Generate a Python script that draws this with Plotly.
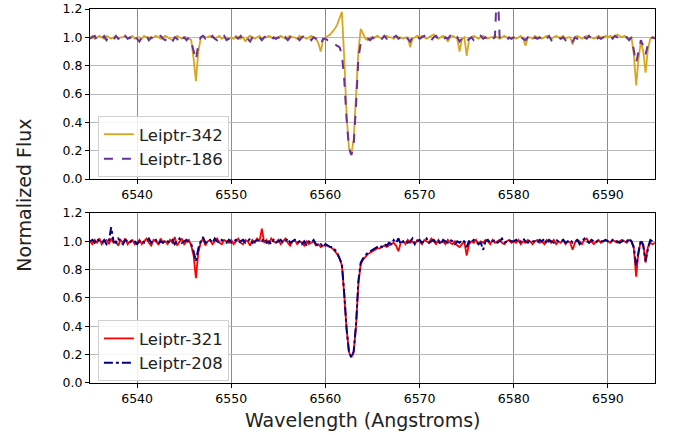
import plotly.graph_objects as go
from plotly.subplots import make_subplots

# wavelength grid (Angstroms), 0.25 A sampling from 6535 to 6595
wavelength = [6535 + 0.25 * i for i in range(241)]

leiptr_342 = [
    1.00,1.01,0.99,1.00,1.01,1.00,0.99,1.01,1.00,0.99,1.00,1.01,0.99,1.00,1.00,1.01,0.99,1.00,1.01,0.99,
    1.00,1.00,0.99,1.01,1.00,1.00,0.99,1.00,1.01,1.00,0.99,1.00,1.01,1.00,0.99,0.98,1.00,1.01,1.00,0.99,
    1.00,1.00,0.99,0.98,0.85,0.69,0.90,0.99,1.01,1.00,1.00,1.01,1.00,0.99,1.00,1.01,0.99,1.00,1.00,0.99,
    1.00,0.99,1.01,1.00,0.99,1.00,0.97,1.00,1.01,1.00,0.99,1.00,1.01,0.99,1.00,1.00,1.01,1.00,0.99,1.00,
    1.00,1.01,1.00,0.99,1.00,1.01,1.00,1.00,0.99,1.01,1.00,1.00,0.99,1.00,1.01,1.00,0.99,0.96,0.90,0.98,
    1.00,1.01,1.02,1.04,1.06,1.09,1.13,1.18,0.85,0.45,0.22,0.17,0.28,0.58,0.90,1.06,1.03,0.99,0.98,1.00,
    0.99,1.00,1.01,1.00,0.99,1.00,1.01,1.00,1.00,0.99,1.01,1.00,1.00,0.99,1.00,1.00,0.93,0.99,1.00,1.01,
    1.00,1.01,1.00,0.99,1.00,1.01,1.02,1.00,0.99,1.00,1.01,1.00,0.97,1.00,1.01,1.00,0.99,0.90,0.99,1.00,
    0.87,0.98,1.00,1.01,1.00,0.99,1.00,1.01,1.00,0.99,1.00,1.00,1.01,1.00,0.99,1.00,1.01,1.00,0.99,1.00,
    1.00,0.99,1.00,1.01,0.99,0.94,1.00,1.00,0.99,1.01,1.00,1.00,0.99,1.00,1.01,1.00,0.99,1.00,1.01,1.00,
    1.00,1.01,0.99,1.00,1.00,0.95,1.00,1.01,1.00,0.99,1.00,1.01,1.00,1.00,0.99,1.00,1.01,1.00,1.00,1.01,
    1.00,1.01,1.00,1.01,1.02,1.01,1.00,1.01,1.00,0.99,1.00,0.88,0.66,0.85,0.97,0.90,0.75,0.92,0.99,1.00,
    1.00,
]

leiptr_186 = [
    0.99,1.00,1.01,0.98,1.00,0.99,1.01,0.98,1.00,1.00,0.98,1.01,0.99,1.00,0.98,1.01,0.99,1.00,0.97,1.00,
    0.99,0.97,1.00,0.99,1.01,0.98,1.00,0.99,0.98,1.00,1.01,0.99,0.98,1.00,0.99,0.97,1.00,0.99,0.96,0.99,
    1.00,0.98,1.00,0.97,0.90,0.84,0.95,1.00,1.01,0.99,1.00,0.98,1.01,0.99,0.98,1.00,0.99,1.01,0.98,0.99,
    1.00,0.98,1.00,0.99,1.01,0.98,1.00,0.99,0.97,1.00,1.01,0.99,1.00,0.98,1.00,1.01,0.99,0.98,1.00,0.99,
    1.00,0.99,0.97,1.00,0.98,1.00,1.01,0.99,1.00,0.98,1.00,1.01,0.99,1.00,0.98,1.00,0.99,0.97,0.95,0.99,
    0.99,0.98,0.98,0.97,0.95,0.94,0.93,0.88,0.70,0.42,0.22,0.17,0.24,0.52,0.85,0.96,0.97,0.98,0.99,0.98,
    1.00,0.99,0.98,1.00,0.99,1.01,0.99,1.00,0.98,1.00,1.01,0.99,1.00,0.98,1.00,0.99,0.97,1.00,0.99,1.01,
    0.99,1.00,1.01,0.99,1.00,0.98,1.00,1.01,0.99,1.00,0.98,1.00,0.99,1.01,0.99,0.98,1.00,0.97,0.99,1.00,
    0.97,0.99,1.00,0.98,1.00,0.99,1.01,0.99,1.00,0.98,1.00,0.99,1.00,1.40,1.00,0.99,1.00,0.98,1.00,0.99,
    1.00,0.99,0.98,1.00,0.99,0.98,1.00,0.99,0.97,1.00,0.99,1.00,0.98,1.00,0.99,1.01,0.98,1.00,0.99,1.00,
    0.99,1.00,0.98,1.00,0.99,0.97,1.00,0.99,1.00,0.98,1.00,0.99,1.01,0.99,1.00,0.98,1.00,0.99,1.00,1.01,
    1.00,1.01,0.99,1.01,1.00,1.01,1.00,0.99,1.00,0.98,1.00,0.92,0.82,0.90,0.98,0.94,0.88,0.95,0.99,1.00,
    0.99,
]

leiptr_321 = [
    1.00,0.98,1.01,0.99,1.02,0.98,1.00,1.01,0.98,1.02,0.99,1.00,0.97,1.01,0.99,1.02,0.98,1.00,1.01,0.98,
    0.99,1.01,0.98,1.00,1.02,0.99,0.97,1.01,1.00,0.98,1.02,0.99,1.00,0.98,1.01,0.99,1.03,0.97,1.00,1.02,
    0.98,1.00,1.01,0.97,0.90,0.74,0.92,0.99,1.02,0.97,1.00,1.01,0.98,1.00,1.02,0.99,0.98,1.01,1.00,0.99,
    1.01,0.98,1.00,1.02,0.99,0.98,1.01,1.00,0.97,1.01,0.99,1.02,1.00,1.09,0.99,1.01,0.98,1.02,1.00,0.99,
    1.01,0.98,1.00,1.02,0.99,0.97,1.00,1.01,0.98,1.00,0.99,0.97,1.00,0.98,0.99,1.00,0.97,0.98,0.96,0.97,
    0.97,0.97,0.96,0.95,0.93,0.91,0.88,0.83,0.62,0.38,0.22,0.18,0.22,0.40,0.70,0.84,0.87,0.89,0.91,0.92,
    0.93,0.94,0.95,0.95,0.96,0.97,0.96,0.97,0.98,0.99,0.97,0.93,0.99,1.00,0.98,1.01,0.99,1.00,0.98,1.01,
    1.00,0.98,1.01,1.00,0.99,1.02,1.00,0.98,1.01,0.99,1.00,0.98,1.01,0.99,0.98,1.00,0.97,0.96,0.98,1.00,
    0.90,0.98,1.00,0.99,1.01,0.98,1.00,0.99,1.01,1.00,0.98,1.01,0.99,1.00,1.01,0.99,0.98,1.00,1.01,0.99,
    1.00,0.99,1.01,0.98,1.00,0.99,1.01,1.00,0.98,1.00,1.01,0.99,1.00,0.98,1.01,1.00,0.99,1.01,0.98,1.00,
    0.99,1.01,0.98,1.00,0.99,0.94,0.99,1.01,1.00,0.98,1.01,1.02,0.99,1.00,0.98,1.00,1.01,0.99,1.00,1.01,
    1.00,0.99,1.01,1.00,0.99,1.00,1.01,1.00,0.99,1.01,1.00,0.95,0.75,0.93,1.00,0.98,0.85,0.96,0.99,0.98,
    0.99,
]

leiptr_208 = [
    1.00,1.01,0.99,1.02,1.00,0.99,1.01,0.98,1.00,1.10,1.00,0.99,1.02,1.00,0.98,1.01,1.00,0.99,1.01,1.00,
    0.98,1.00,1.01,0.99,1.00,1.02,0.99,1.00,1.01,0.98,1.00,0.99,1.01,1.00,0.99,1.01,0.98,1.00,1.02,0.99,
    1.00,1.01,0.99,0.98,0.93,0.86,0.95,1.00,1.03,0.99,1.00,1.01,0.99,1.02,1.00,0.99,1.01,1.00,0.99,1.01,
    0.99,1.00,1.01,0.99,1.00,1.01,0.99,1.00,1.02,0.99,1.00,1.01,1.00,1.00,1.02,0.99,1.00,0.98,1.01,0.99,
    1.00,1.01,0.99,1.00,1.02,0.99,1.00,1.01,0.99,1.00,0.98,1.00,0.97,1.00,0.99,1.01,0.98,0.97,0.98,0.96,
    0.98,0.97,0.96,0.96,0.94,0.92,0.88,0.84,0.63,0.38,0.22,0.18,0.22,0.41,0.72,0.85,0.88,0.90,0.92,0.93,
    0.94,0.95,0.96,0.97,0.96,0.98,0.97,0.99,0.98,1.01,0.99,1.02,0.98,1.00,1.01,0.99,1.00,1.02,0.98,1.00,
    1.01,0.99,1.00,1.02,0.99,1.00,1.01,0.99,1.00,0.98,1.01,1.00,0.99,1.01,1.00,0.98,1.00,0.99,1.01,1.00,
    0.96,1.00,0.99,1.01,1.00,0.98,0.99,0.94,1.00,1.01,0.99,1.00,1.01,0.99,1.00,1.02,0.99,1.00,1.01,1.00,
    1.00,1.01,0.99,1.00,1.02,1.00,0.99,1.01,1.00,1.00,0.99,1.01,1.00,1.02,0.98,1.01,1.00,0.99,1.01,1.00,
    1.00,1.01,0.99,1.00,1.01,0.99,1.00,1.01,0.98,1.00,1.02,1.00,0.99,1.01,1.00,0.99,1.01,1.00,1.00,1.01,
    1.00,0.99,1.01,1.00,1.00,0.99,1.00,1.01,1.00,1.02,1.00,0.96,0.83,0.92,1.01,0.97,0.86,0.95,1.01,1.00,
    1.00,
]

x_ticks = [6540, 6550, 6560, 6570, 6580, 6590]
y_ticks = [0.0, 0.2, 0.4, 0.6, 0.8, 1.0, 1.2]

FONT = "DejaVu Sans"

fig = make_subplots(rows=2, cols=1, vertical_spacing=0.0909)

fig.add_trace(go.Scatter(x=wavelength, y=leiptr_342, mode="lines", name="Leiptr-342",
                         line=dict(color="#DAA520", width=1.8), legend="legend"), row=1, col=1)
fig.add_trace(go.Scatter(x=wavelength, y=leiptr_186, mode="lines", name="Leiptr-186",
                         line=dict(color="#663399", width=2, dash="dash"), legend="legend"), row=1, col=1)
fig.add_trace(go.Scatter(x=wavelength, y=leiptr_321, mode="lines", name="Leiptr-321",
                         line=dict(color="#FF0000", width=1.8), legend="legend2"), row=2, col=1)
fig.add_trace(go.Scatter(x=wavelength, y=leiptr_208, mode="lines", name="Leiptr-208",
                         line=dict(color="#000080", width=2, dash="dashdot"), legend="legend2"), row=2, col=1)

axis_common = dict(showline=True, linecolor="black", linewidth=1, mirror=True,
                   ticks="outside", ticklen=4, tickcolor="black",
                   tickfont=dict(family=FONT, size=12.5, color="black"),
                   zeroline=False, showgrid=True, automargin=False)

for r in (1, 2):
    fig.update_xaxes(range=[6535, 6595], tickvals=x_ticks, gridcolor="#8c8c8c", gridwidth=1,
                     **axis_common, row=r, col=1)
    fig.update_yaxes(range=[0, 1.2], tickvals=y_ticks, tickformat=".1f", gridcolor="#b8b8b8",
                     gridwidth=1, **axis_common, row=r, col=1)

fig.update_layout(
    width=678, height=435, autosize=False,
    margin=dict(l=90, r=23, t=9, b=52, autoexpand=False),
    plot_bgcolor="white", paper_bgcolor="white",
    font=dict(family=FONT, color="black"),
    legend=dict(x=0.014, y=0.714, xanchor="left", yanchor="top",
                bgcolor="rgba(255,255,255,0.85)", bordercolor="#d0d0d0", borderwidth=1,
                font=dict(family=FONT, size=16.5, color="#222"), tracegroupgap=0),
    legend2=dict(x=0.014, y=0.168, xanchor="left", yanchor="top",
                 bgcolor="rgba(255,255,255,0.85)", bordercolor="#d0d0d0", borderwidth=1,
                 font=dict(family=FONT, size=16.5, color="#222"), tracegroupgap=0),
    annotations=[
        dict(text="Normalized Flux", xref="paper", yref="paper", x=-0.117, y=0.503,
             textangle=-90, showarrow=False, xanchor="center", yanchor="middle",
             font=dict(family=FONT, size=19, color="#222")),
        dict(text="Wavelength (Angstroms)", xref="paper", yref="paper", x=0.483, y=-0.099,
             showarrow=False, xanchor="center", yanchor="middle",
             font=dict(family=FONT, size=19, color="#222")),
    ],
)

fig.write_html("out.html", config={"displayModeBar": False},
               post_script="document.body.style.margin='0';document.body.style.padding='0';")
